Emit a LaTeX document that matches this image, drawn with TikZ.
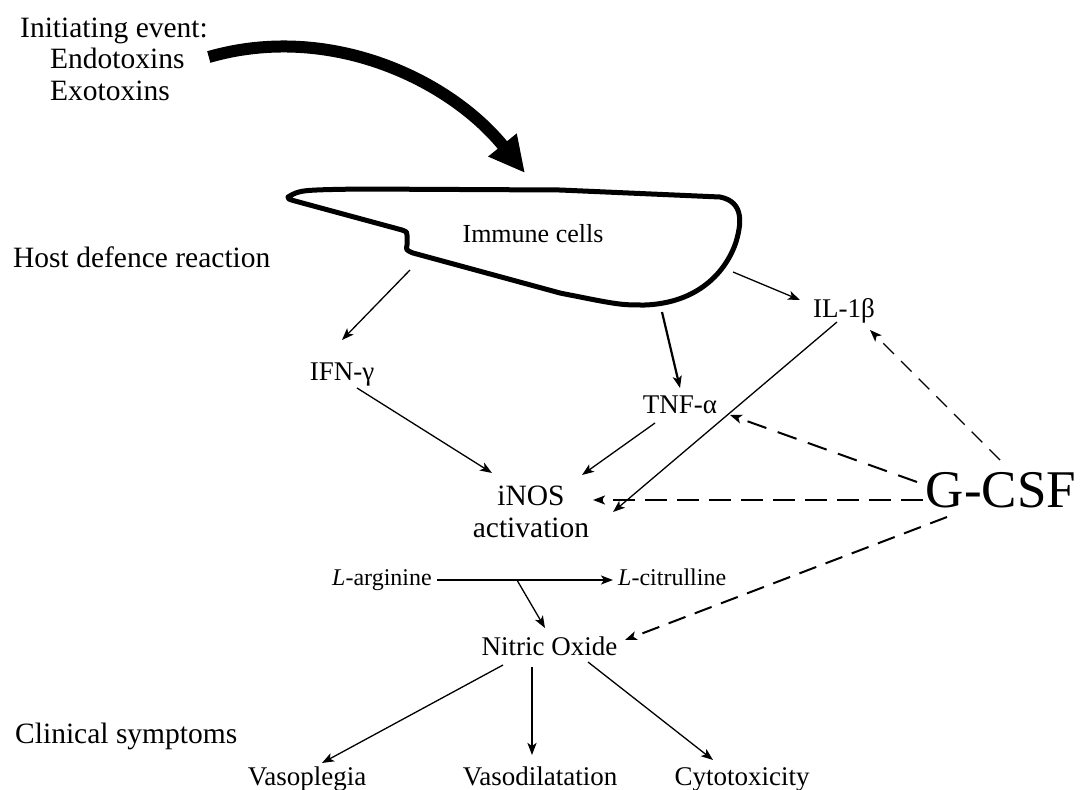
\documentclass[tikz,border=0pt]{standalone}
\usepackage{fontspec}
\setmainfont{Liberation Serif}
\usetikzlibrary{arrows.meta,calc}
\begin{document}
\begin{tikzpicture}[x=1pt,y=-1pt,
  lab/.style={inner sep=0pt, font=\fontsize{29.5}{32}\selectfont},
  item/.style={inner sep=0pt, font=\fontsize{27}{30}\selectfont},
  smalllab/.style={inner sep=0pt, font=\fontsize{24}{26}\selectfont},
  biglab/.style={inner sep=0pt, font=\fontsize{53}{56}\selectfont},
  conn/.style={line width=1.3pt, -{Stealth[length=12pt,width=9pt,inset=3pt]}},
  thickconn/.style={conn, line width=2.2pt},
  dconn/.style={conn, line width=2pt, dash pattern=on 22pt off 10pt},
  thindconn/.style={conn, line width=1.4pt, dash pattern=on 15pt off 10pt},
  cellshape/.style={line width=5pt, line join=round},
]
\useasboundingbox (0,0) rectangle (1080,790);

% left-hand labels
\node[lab, anchor=base west] (init) at (20,37) {Initiating event:};
\node[lab, anchor=base west] (endo) at (50,68) {Endotoxins};
\node[lab, anchor=base west] (exo) at (50,100) {Exotoxins};
\node[lab, anchor=base west] (host) at (13,267) {Host defence reaction};
\node[lab, anchor=base west] (clin) at (15,743) {Clinical symptoms};

% immune cell shape
\draw[cellshape] (288,197) .. controls (300,190) .. (360,189) -- (560,190) -- (720,197)
  .. controls (745,202) and (741,225) .. (736,242)
  .. controls (726,272) and (698,303) .. (645,305)
  .. controls (620,305) .. (560,293) -- (413,253)
  .. controls (406,250) .. (407,245) -- (407,235)
  .. controls (407,232) .. (402,230) -- (295,201)
  .. controls (288,199) .. (288,197) -- cycle;
\node[item, font=\fontsize{26}{28}\selectfont, anchor=base] (immune) at (533,242) {Immune cells};

\coordinate (cellsIFN) at (410,270);
\coordinate (cellsTNF) at (662,312);
\coordinate (cellsIL) at (733,272);
\coordinate (cellsTop) at (525,173);

% mediators
\node[item, anchor=base] (ifn) at (342,380) {IFN-γ};
\node[item, anchor=base] (tnf) at (680,413) {TNF-α};
\node[item, anchor=base] (il) at (844,317) {IL-1β};
\node[lab, anchor=base] (inos) at (531,505) {iNOS};
\node[lab, anchor=base] (inosact) at (531,537) {activation};
\node[biglab, anchor=base] (gcsf) at (1001,507) {G-CSF};

\node[smalllab, anchor=base west] (larg) at (332,585) {\textit{L}-arginine};
\node[smalllab, anchor=base west] (lcit) at (618,585) {\textit{L}-citrulline};
\node[item, anchor=base] (no) at (549.5,655) {Nitric Oxide};

\node[item, anchor=base] (vp) at (307,785) {Vasoplegia};
\node[item, anchor=base] (vd) at (540,785) {Vasodilatation};
\node[item, anchor=base] (cy) at (742,785) {Cytotoxicity};

% initiating arrow
\draw[line width=12pt, -{Triangle[length=36pt,width=34pt]}]
  ($(endo.base east)+(24,-11)$) .. controls (330,22) and (450,80) .. (cellsTop);

% immune cells to mediators
\draw[conn] (cellsIFN) -- ($(ifn.base)+(0,-40)$);
\draw[thickconn] (cellsTNF) -- ($(tnf.base)+(0,-25)$);
\draw[conn] (cellsIL) -- ($(il.base)+(-44,-17)$);

% mediators to iNOS
\draw[conn] ($(ifn.base)+(15,8)$) -- ($(inos.base)+(-39,-32)$);
\draw[conn] ($(tnf.base)+(-25,10)$) -- ($(inos.base)+(51,-30)$);
\draw[conn] ($(il.base)+(-7,5)$) -- ($(inos.base)+(82,7)$);

% G-CSF effects
\draw[dconn] ($(gcsf.base)+(-78,-7)$) -- ($(inos.base)+(62,-5)$);
\draw[dconn, dash pattern=on 20pt off 12pt] ($(gcsf.base)+(-84,-25)$) -- ($(tnf.base)+(50,2)$);
\draw[thindconn] ($(gcsf.base)+(-1,-47)$) -- ($(il.base)+(26,13)$);
\draw[dconn, dash pattern=on 18pt off 10pt] ($(gcsf.base)+(-54,10)$) -- ($(no.base)+(75.5,-15)$);

% arginine -> citrulline
\draw[conn, line width=1.8pt] ($(larg.base east)+(5,-5)$) -- ($(lcit.base west)+(-5,-5)$);
\coordinate (branch) at ($(larg.base east)+(85,-5)$);
\draw[conn] (branch) -- ($(no.base)+(-4.5,-27)$);

% nitric oxide to symptoms
\draw[conn] ($(no.base)+(-46.5,10)$) -- ($(vp.base)+(15,-22)$);
\draw[thickconn] ($(no.base)+(-17.5,12)$) -- ($(vd.base)+(-8,-30)$);
\draw[conn] ($(no.base)+(38.5,7)$) -- ($(cy.base)+(-29,-25)$);
\end{tikzpicture}
\end{document}
